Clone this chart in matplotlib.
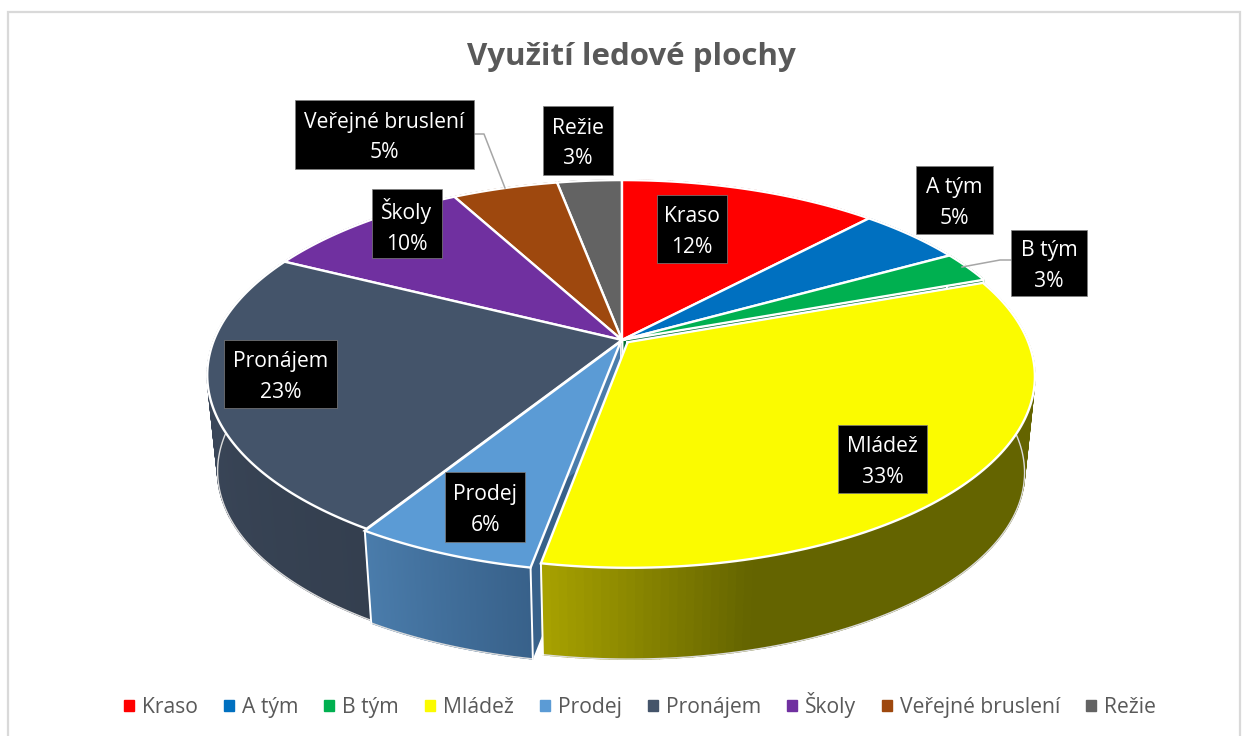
import numpy as np
import matplotlib
matplotlib.use('Agg')
import matplotlib.pyplot as plt
from matplotlib.patches import Rectangle, Patch

plt.rcParams['font.family'] = ['Open Sans', 'DejaVu Sans']

# data
labels = ['Kraso', 'A tým', 'B tým', 'Mládež', 'Prodej', 'Pronájem', 'Školy', 'Veřejné bruslení', 'Režie']
values = [12, 4.9, 2.6, 33.4, 6, 23.5, 9.7, 4.9, 3]
percent_labels = ['12%', '5%', '3%', '33%', '6%', '23%', '10%', '5%', '3%']

# style
colors = ['#ff0000', '#0070c0', '#00b050', '#fbfb00', '#5b9bd5', '#44546a', '#7030a0', '#9e480e', '#636363']
wall_left = ['#990000', '#004a80', '#007030', '#a8a200', '#4a7cab', '#3e4b5f', '#4a2070', '#6a3009', '#444444']
wall_right = ['#990000', '#004a80', '#007030', '#646400', '#38618a', '#343f4f', '#4a2070', '#6a3009', '#444444']
explode = [0, 0, 0, 0.018, 0.008, 0, 0, 0, 0]
radius = [1, 1, 1, 0.98, 1, 1, 1, 1, 1]
draw_order = [8, 0, 7, 1, 6, 2, 5, 4, 3]

# label boxes: x0, x1, y0, y1 in picture pixels
boxes = [(657, 727, 195, 263), (916, 993, 166, 234), (1011, 1087, 230, 296),
         (838, 927, 425, 493), (445, 525, 472, 542), (224, 337, 340, 408),
         (372, 442, 189, 258), (295, 474, 100, 169), (543, 613, 106, 175)]

# perspective of the pie
cx, cy, cy2 = 622, 340, 437
a, b, k, s = 188.7, 408, 0.18, 0.975


def proj(X, Y, bottom=False):
    w = 1 + k * Y
    if bottom:
        return cx + s * b * X / w, cy2 - s * a * Y / w
    return cx + b * X / w, cy - a * Y / w


fig = plt.figure(figsize=(12.5, 7.36), dpi=100)
ax = fig.add_axes([0, 0, 1, 1])
ax.set_xlim(0, 1250)
ax.set_ylim(736, 0)
ax.axis('off')

ax.add_patch(Rectangle((8, 12), 1232, 740, fc='white', ec='#d9d9d9', lw=1.6, zorder=0))

edges = np.concatenate([[0], np.cumsum(values)]) / sum(values) * 2 * np.pi

z = 1
for i in draw_order:
    t = np.linspace(edges[i], edges[i + 1], 120)
    mid = (edges[i] + edges[i + 1]) / 2
    ox, oy = explode[i] * np.sin(mid), explode[i] * np.cos(mid)
    X, Y = radius[i] * np.sin(t) + ox, radius[i] * np.cos(t) + oy

    xt, yt = proj(X, Y)
    xb, yb = proj(X, Y, bottom=True)
    tx, ty = proj(ox, oy)
    bx, by = proj(ox, oy, bottom=True)

    # radial faces
    for j, col in [(0, wall_right[i]), (-1, wall_left[i])]:
        ax.fill([tx, xt[j], xb[j], bx], [ty, yt[j], yb[j], by], color=col, lw=0, zorder=z)
        ax.plot([tx, bx], [ty, by], color='white', lw=1.0, zorder=z)

    # rim, shaded in strips
    c0 = np.array(matplotlib.colors.to_rgb(wall_left[i]))
    c1 = np.array(matplotlib.colors.to_rgb(wall_right[i]))
    for n in range(len(t) - 1):
        if i == 3:
            f = min(1, max(0, (xt[n] - 545) / 210))
        else:
            f = 1 - n / (len(t) - 2)
        col = c0 + (c1 - c0) * f
        ax.fill([xt[n], xt[n + 1], xb[n + 1], xb[n]], [yt[n], yt[n + 1], yb[n + 1], yb[n]],
                color=col, lw=1.0, zorder=z + 0.1)
    ax.plot(xb, yb, color='#dcdcdc', lw=1.0, zorder=z + 0.2)
    for j in (0, -1):
        ax.plot([xt[j], xb[j]], [yt[j], yb[j]], color='white', lw=1.4, zorder=z + 0.2)

    # top
    ax.fill(np.r_[tx, xt], np.r_[ty, yt], color=colors[i], lw=0, zorder=z + 0.3)
    ax.plot(np.r_[tx, xt, tx], np.r_[ty, yt, ty], color='white', lw=1.7, solid_joinstyle='miter', zorder=z + 0.4)
    z += 1

# leader lines
ax.plot([474, 484, 505], [134, 134, 188], color='#a6a6a6', lw=1.1, zorder=z)
ax.plot([1011, 1000, 962], [260, 260, 267], color='#a6a6a6', lw=1.1, zorder=z)

# data labels
for name, pct, (x0, x1, y0, y1) in zip(labels, percent_labels, boxes):
    ax.add_patch(Rectangle((x0, y0), x1 - x0, y1 - y0, fc='black', ec='#7f7f7f', lw=0.5, zorder=z + 1))
    ax.text((x0 + x1) / 2, (y0 + y1) / 2 + 3, f'{name}\n{pct}', color='white', fontsize=15.2,
            ha='center', va='center', linespacing=1.6, zorder=z + 2)

ax.text(631, 57, 'Využití ledové plochy', color='#595959', fontsize=22.5, fontweight='bold',
        ha='center', va='center')

handles = [Patch(color=c, label=n) for c, n in zip(colors, labels)]
ax.legend(handles=handles, ncol=len(labels), loc='center', bbox_to_anchor=(640 / 1250, 1 - 705 / 736),
          frameon=False, fontsize=15.2, labelcolor='#595959', handlelength=0.48, handleheight=0.48,
          handletextpad=0.38, columnspacing=1.22, borderpad=0)

fig.savefig('out.png', dpi=100)
